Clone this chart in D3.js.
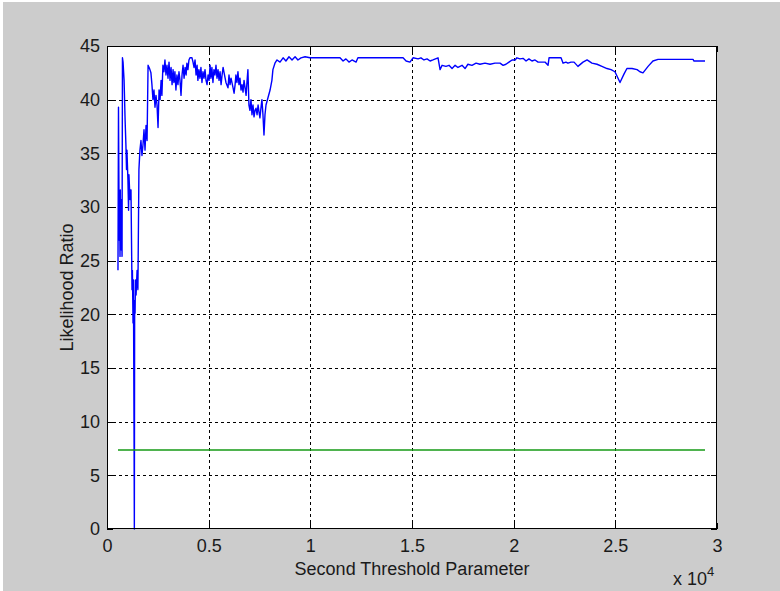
<!DOCTYPE html>
<html>
<head>
<meta charset="utf-8">
<script src="https://cdn.jsdelivr.net/npm/d3@7"></script>
<style>
  html, body { margin: 0; padding: 0; background: #ffffff; }
  svg { display: block; }
  text { font-family: "Liberation Sans", Arial, sans-serif; fill: #1a1a1a; }
</style>
</head>
<body>
<svg id="chart" width="780" height="591"></svg>
<script>
// ---- data ----
const thresholdParam = [
  540,565,590,605,620,640,655,670,690,705,720,740,760,790,810,840,890,930,960,980,
  1030,1060,1080,1130,1180,1230,1250,1280,1300,1330,1345,1360,1380,1400,1430,1480,1520,1570,1620,1670,
  1720,1770,1820,1870,1920,1970,2020,2070,2110,2160,2210,2260,2310,2360,2410,2460,2510,2560,2610,2660,
  2700,2750,2800,2850,2900,2950,3000,3050,3100,3150,3200,3250,3290,3340,3390,3440,3490,3540,3590,3640,
  3690,3740,3790,3840,3890,3930,3980,4030,4080,4180,4230,4280,4330,4380,4430,4470,4520,4570,4620,4670,
  4720,4770,4820,4870,4920,4970,5020,5070,5110,5160,5210,5260,5310,5360,5410,5460,5510,5560,5610,5660,
  5710,5750,5850,5950,6000,6050,6100,6200,6250,6300,6340,6390,6440,6490,6540,6590,6640,6690,6740,6790,
  6840,6890,6930,6980,7030,7080,7130,7180,7230,7280,7330,7380,7430,7480,7520,7570,7620,7670,7720,7770,
  7820,7920,8020,8110,8160,8260,8360,8510,8660,8800,8950,9100,9250,9390,9540,9740,9980,10230,10480,11460,
  11610,11750,11900,12050,12250,12340,14560,14710,14900,15050,15300,15440,15590,15740,15890,16030,16280,16380,16480,16670,
  16820,16970,17120,17260,17460,17610,17750,17950,18150,18340,18590,18840,19080,19330,19480,19620,19770,19920,20070,20160,
  20310,20460,20610,20750,20900,21050,21200,21340,21540,21690,21740,22330,22430,22570,22670,22820,22970,23160,23410,23610,
  23850,24100,24340,24590,24790,24980,25080,25230,25430,25570,25820,26070,26210,26360,26610,26850,27100,28820,28870,29410
];
const likelihoodRatio = [
  24.1,39.3,30.7,26.9,31.1,25.4,31.6,27.9,30.7,26.0,29.7,25.4,43.9,43.5,42.8,41.8,38.1,35.8,33.5,35.3,
  32.5,29.7,33.0,30.7,31.6,22.3,24.1,19.2,23.2,8.8,0,21.3,20.1,23.2,21.8,24.1,22.3,33.5,35.3,36.2,
  34.8,35.8,37.2,35.3,37.6,36.2,43.2,43.0,42.8,42.5,41.4,40.0,40.9,39.3,40.4,39.5,37.4,40.9,40.0,41.8,
  40.4,43.2,42.6,43.7,42.3,43.2,42.0,43.5,41.8,43.0,41.4,42.8,41.6,42.6,40.9,42.3,41.4,42.6,41.8,40.4,
  42.3,43.2,42.0,43.0,42.3,43.4,42.8,43.7,43.9,43.9,43.5,43.0,43.7,42.3,43.2,41.8,42.8,42.0,43.0,41.6,
  42.6,42.0,42.8,41.8,41.4,42.3,41.8,43.2,42.0,43.0,41.6,42.8,42.3,43.2,42.0,42.8,41.8,42.6,41.4,42.3,
  43.0,42.6,41.6,41.1,42.3,41.4,42.0,41.1,40.6,41.4,42.3,41.6,42.6,41.4,42.0,40.9,41.4,40.7,41.8,41.1,
  40.4,41.8,42.8,39.5,39.0,40.0,38.6,39.5,38.4,39.0,39.2,38.6,39.5,38.8,38.3,39.2,40.0,38.6,36.7,38.6,
  39.5,40.2,40.9,41.8,42.8,43.4,43.7,43.5,43.9,43.6,44.0,43.7,44.0,43.7,43.9,44.0,43.9,43.9,43.9,43.9,
  43.6,43.8,43.5,43.7,43.5,43.9,43.9,43.6,43.5,43.9,43.8,43.9,43.7,43.8,43.6,43.7,43.9,42.8,43.2,43.1,
  43.2,42.9,43.2,43.0,43.2,42.9,43.3,43.2,43.4,43.3,43.4,43.3,43.4,43.4,43.2,43.3,43.5,43.7,43.7,43.9,
  43.8,43.85,43.6,43.8,43.6,43.7,43.5,43.5,43.5,43.2,43.9,43.9,43.4,43.5,43.4,43.5,43.5,43.1,43.5,43.7,
  43.4,43.3,43.1,42.9,42.8,42.6,42.2,41.6,42.4,42.9,42.9,42.8,42.6,42.5,43.1,43.6,43.75,43.75,43.6,43.6
];
const thresholdLineX = [540, 29410];
const thresholdLineY = [7.36, 7.36];

const xTickValues = [0, 5000, 10000, 15000, 20000, 25000, 30000];
const xTickLabels = ["0", "0.5", "1", "1.5", "2", "2.5", "3"];
const yTickValues = [0, 5, 10, 15, 20, 25, 30, 35, 40, 45];
const yTickLabels = ["0", "5", "10", "15", "20", "25", "30", "35", "40", "45"];

// ---- layout ----
const W = 780, H = 591;
const L = 107, T = 46, R = 717, B = 529;

const svg = d3.select("#chart");
svg.append("rect").attr("x", 3).attr("y", 2).attr("width", W - 3).attr("height", H - 2).attr("fill", "#cccccc");
svg.append("rect").attr("x", L).attr("y", T).attr("width", R - L).attr("height", B - T).attr("fill", "#ffffff");

const x = d3.scaleLinear().domain([0, 30000]).range([L, R]);
const y = d3.scaleLinear().domain([0, 45]).range([B, T]);

// grid
const grid = svg.append("g").attr("stroke", "#000").attr("stroke-width", 1)
  .attr("stroke-dasharray", "3,3").attr("shape-rendering", "crispEdges");
grid.selectAll("line.gx").data(xTickValues.slice(1, -1)).join("line")
  .attr("x1", d => Math.round(x(d)) + 0.5).attr("x2", d => Math.round(x(d)) + 0.5)
  .attr("y1", T).attr("y2", B);
grid.selectAll("line.gy").data(yTickValues.slice(1, -1)).join("line")
  .attr("x1", L).attr("x2", R)
  .attr("y1", d => Math.round(y(d)) + 0.5).attr("y2", d => Math.round(y(d)) + 0.5);

// data lines
const pts = thresholdParam.map((d, i) => [d, likelihoodRatio[i]]);
const line = d3.line().x(d => x(d[0])).y(d => y(d[1]));
svg.append("path").datum(pts).attr("d", line)
  .attr("fill", "none").attr("stroke", "#0000ff").attr("stroke-width", 1.4)
  .attr("stroke-linejoin", "round");
const tpts = thresholdLineX.map((d, i) => [d, thresholdLineY[i]]);
svg.append("path").datum(tpts).attr("d", line)
  .attr("fill", "none").attr("stroke", "#159a15").attr("stroke-width", 1.4);

// axes
const fs = 18;
const xAxis = d3.axisBottom(x).tickValues(xTickValues)
  .tickFormat((d, i) => xTickLabels[i]).tickSizeInner(-6).tickSizeOuter(0).tickPadding(10);
const gx = svg.append("g").attr("transform", `translate(0,${B})`).call(xAxis);
const yAxis = d3.axisLeft(y).tickValues(yTickValues)
  .tickFormat((d, i) => yTickLabels[i]).tickSizeInner(-6).tickSizeOuter(0).tickPadding(7);
const gy = svg.append("g").attr("transform", `translate(${L},0)`).call(yAxis);
const xTop = d3.axisTop(x).tickValues(xTickValues).tickFormat("").tickSizeInner(-6).tickSizeOuter(0);
svg.append("g").attr("transform", `translate(0,${T})`).call(xTop);
const yRight = d3.axisRight(y).tickValues(yTickValues).tickFormat("").tickSizeInner(-6).tickSizeOuter(0);
svg.append("g").attr("transform", `translate(${R},0)`).call(yRight);

svg.selectAll(".domain").remove();
svg.selectAll(".tick line").attr("stroke", "#000").attr("shape-rendering", "crispEdges");
svg.selectAll(".tick text").attr("font-size", fs).attr("font-family", "Liberation Sans, Arial, sans-serif").attr("fill", "#1a1a1a");

// box
svg.append("rect").attr("x", L + 0.5).attr("y", T + 0.5).attr("width", R - L - 1).attr("height", B - T - 1)
  .attr("fill", "none").attr("stroke", "#000").attr("stroke-width", 1).attr("shape-rendering", "crispEdges");

// labels
svg.append("text").attr("x", (L + R) / 2).attr("y", 575).attr("text-anchor", "middle")
  .attr("font-size", fs).text("Second Threshold Parameter");
svg.append("text").attr("transform", `translate(73,${(T + B) / 2}) rotate(-90)`)
  .attr("text-anchor", "middle").attr("font-size", fs).text("Likelihood Ratio");
const ex = svg.append("text").attr("x", 673).attr("y", 585).attr("font-size", fs);
ex.append("tspan").text("x 10");
ex.append("tspan").attr("font-size", 13).attr("dy", -9).text("4");
</script>
</body>
</html>
